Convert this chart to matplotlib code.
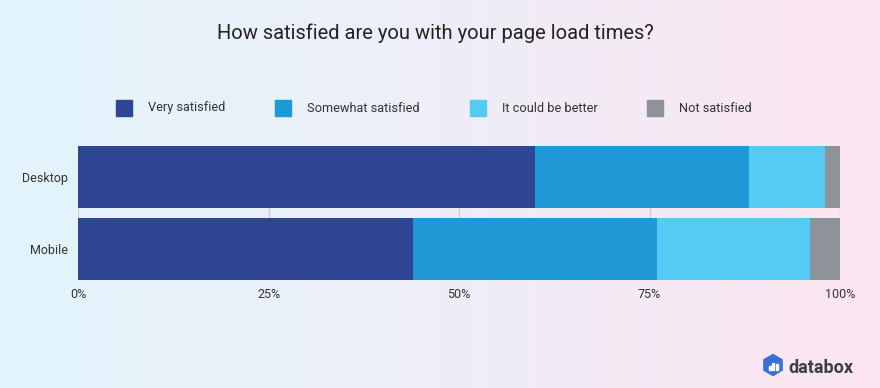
import numpy as np
import matplotlib.pyplot as plt
from matplotlib.colors import LinearSegmentedColormap
from matplotlib.patches import Rectangle, RegularPolygon

plt.rcParams['font.family'] = ['Roboto', 'DejaVu Sans']

# Data (percent of respondents)
devices = ['Desktop', 'Mobile']
categories = ['Very satisfied', 'Somewhat satisfied', 'It could be better', 'Not satisfied']
values = {
    'Very satisfied':     [60, 44],
    'Somewhat satisfied': [28, 32],
    'It could be better': [10, 20],
    'Not satisfied':      [2, 4],
}
colors = ['#2E4594', '#1E99D5', '#55CBF3', '#8E9299']
tick_vals = [0, 25, 50, 75, 100]
tick_labels = ['0%', '25%', '50%', '75%', '100%']

W, H = 880, 388
fig = plt.figure(figsize=(W / 100, H / 100), dpi=100)

# Gradient background
bg = fig.add_axes([0, 0, 1, 1], zorder=-10)
cmap = LinearSegmentedColormap.from_list('bg', ['#E2F4FC', '#EEEEF8', '#FCE5F0'])
bg.imshow(np.linspace(0, 1, 256).reshape(1, -1), aspect='auto', cmap=cmap,
          extent=[0, 1, 0, 1])
bg.axis('off')

# Bars area
left, right = 78 / W, 840 / W
top, bottom = 1 - 146 / H, 1 - 280 / H
ax = fig.add_axes([left, bottom, right - left, top - bottom])
ax.patch.set_alpha(0)

ypos = [1, 0]
bar_h = 62 / 72
lefts = np.zeros(len(devices))
for cat, col in zip(categories, colors):
    vals = np.array(values[cat], dtype=float)
    ax.barh(ypos, vals, left=lefts, height=bar_h, color=col, zorder=3,
            edgecolor='none')
    lefts += vals

ax.set_xlim(0, 100)
ax.set_ylim(-bar_h / 2, 1 + bar_h / 2)
for t in tick_vals:
    ax.axvline(t, color='#CFCFD4', lw=1, zorder=1)

ax.set_xticks(tick_vals)
ax.set_xticklabels(tick_labels)
ax.set_yticks(ypos)
ax.set_yticklabels(devices)
ax.tick_params(axis='both', length=0, labelsize=9, colors='#333333')
ax.tick_params(axis='x', pad=6)
ax.tick_params(axis='y', pad=7.5)
for s in ax.spines.values():
    s.set_visible(False)

# Title
fig.text(435 / W, 1 - 39 / H, 'How satisfied are you with your page load times?',
         ha='center', va='baseline', fontsize=14.5, color='#222222')

# Legend
leg_x = [116, 275, 470, 647]
leg_y = 1 - 108 / H
for x, cat, col in zip(leg_x, categories, colors):
    fig.patches.append(Rectangle((x / W, leg_y - 8 / H), 16 / W, 16 / H,
                                 transform=fig.transFigure, color=col))
    fig.text((x + 32) / W, leg_y, cat, ha='left', va='center',
             fontsize=9.2, color='#333333')

# databox logo
lax = fig.add_axes([762 / W, 1 - 376 / H, 22 / W, 22 / H])
lax.set_xlim(-11, 11)
lax.set_ylim(-11, 11)
lax.axis('off')
lax.add_patch(RegularPolygon((0, 0), numVertices=6, radius=10.5,
                             orientation=0, color='#3A6FD8'))
for bx, bh in zip([-3.5, 0, 3.5], [4, 7, 5.5]):
    lax.add_patch(Rectangle((bx - 1, -4.5), 2, bh, color='white'))
fig.text(788 / W, 1 - 373 / H, 'databox', ha='left', va='baseline',
         fontsize=13, fontweight='bold', color='#3B3F47')

fig.savefig('out.png', dpi=100)
